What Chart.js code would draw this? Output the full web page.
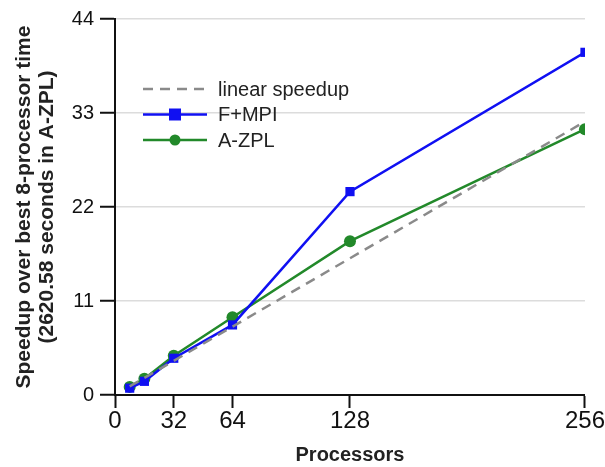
<!DOCTYPE html>
<html>
<head>
<meta charset="utf-8">
<script src="https://cdn.jsdelivr.net/npm/chart.js@4"></script>
<style>
  body { margin: 0; background: #fff; }
  #wrap { width: 605px; height: 467px; }
</style>
</head>
<body>
<div id="wrap"><canvas id="myChart" width="605" height="467"></canvas></div>
<script>
// processors on x, speedup on y
const processors = [8, 16, 32, 64, 128, 256];
const linearSpeedup = [1, 2, 4, 8, 16, 32];
const fMpi = [0.8, 1.6, 4.3, 8.2, 23.8, 40.1];
const aZpl = [0.95, 1.9, 4.6, 9.1, 18.0, 31.1];
const xTicks = [0, 32, 64, 128, 256];
const yTicks = [0, 11, 22, 33, 44];

const FONT = '"Liberation Sans", Arial, sans-serif';

function pts(ys) {
  return processors.map((p, i) => ({ x: p, y: ys[i] }));
}

// legend drawn inside the plot: line sample with marker in the middle
const insideLegend = {
  id: 'insideLegend',
  afterDraw(chart) {
    const ctx = chart.ctx;
    const x0 = 143, x1 = 207, tx = 218;
    let y = 89;
    chart.data.datasets.forEach(ds => {
      ctx.save();
      ctx.strokeStyle = ds.borderColor;
      ctx.lineWidth = ds.borderWidth;
      ctx.setLineDash(ds.borderDash || []);
      ctx.beginPath();
      ctx.moveTo(x0, y);
      ctx.lineTo(x1, y);
      ctx.stroke();
      ctx.setLineDash([]);
      const mx = 175;
      ctx.fillStyle = ds.pointBackgroundColor;
      if (ds.pointRadius > 0) {
        if (ds.pointStyle === 'rect') {
          const s = 12;
          ctx.fillRect(mx - s / 2, y - s / 2, s, s);
        } else {
          ctx.beginPath();
          ctx.arc(mx, y, 5.5, 0, Math.PI * 2);
          ctx.fill();
        }
      }
      ctx.fillStyle = '#222';
      ctx.font = '20px ' + FONT;
      ctx.textBaseline = 'middle';
      ctx.fillText(ds.label, tx, y + 1);
      ctx.restore();
      y += 25.5;
    });
  }
};

const config = {
  type: 'line',
  data: {
    datasets: [
      {
        label: 'linear speedup',
        data: pts(linearSpeedup),
        borderColor: '#8a8a8a',
        borderWidth: 2.5,
        borderDash: [10, 7],
        pointRadius: 0,
        pointBackgroundColor: '#8a8a8a',
        fill: false,
      },
      {
        label: 'F+MPI',
        data: pts(fMpi),
        borderColor: '#1010f2',
        borderWidth: 2.5,
        pointStyle: 'rect',
        pointRadius: 6.5,
        pointBackgroundColor: '#1010f2',
        pointBorderWidth: 0,
        fill: false,
      },
      {
        label: 'A-ZPL',
        data: pts(aZpl),
        borderColor: '#22892a',
        borderWidth: 2.5,
        pointStyle: 'circle',
        pointRadius: 6,
        pointBackgroundColor: '#22892a',
        pointBorderWidth: 0,
        fill: false,
      }
    ]
  },
  options: {
    responsive: false,
    animation: false,
    layout: { padding: { left: 0, right: 18, top: 19, bottom: 0 } },
    plugins: {
      legend: { display: false },
      tooltip: { enabled: false },
    },
    scales: {
      x: {
        type: 'linear',
        min: 0,
        max: 256,
        afterBuildTicks: s => { s.ticks = xTicks.map(v => ({ value: v })); },
        afterFit: s => { s.height = 72; },
        border: { color: '#111', width: 2 },
        grid: {
          drawOnChartArea: false,
          tickColor: '#111',
          tickLength: 13,
          tickWidth: 2,
        },
        ticks: {
          color: '#111',
          font: { family: FONT, size: 24, lineHeight: 1.1 },
          maxRotation: 0,
          padding: 0,
        },
        title: {
          display: true,
          text: 'Processors',
          color: '#222',
          font: { family: FONT, size: 20, weight: 'bold', lineHeight: 1.2 },
          padding: { top: 0, bottom: 0 },
        }
      },
      y: {
        type: 'linear',
        min: 0,
        max: 44,
        afterBuildTicks: s => { s.ticks = yTicks.map(v => ({ value: v })); },
        afterFit: s => { s.width = 115; },
        border: { color: '#111', width: 2 },
        grid: {
          color: '#dcdcdc',
          lineWidth: 1.5,
          tickColor: '#111',
          tickLength: 15,
          tickWidth: 2,
        },
        ticks: {
          color: '#111',
          font: { family: FONT, size: 20 },
          padding: 6,
        },
        title: {
          display: true,
          text: ['Speedup over best 8-processor time', '(2620.58 seconds in A-ZPL)'],
          color: '#222',
          font: { family: FONT, size: 21, weight: 'bold', lineHeight: 1.1 },
          padding: { top: 13, bottom: 0 },
        }
      }
    }
  },
  plugins: [insideLegend]
};

new Chart(document.getElementById('myChart').getContext('2d'), config);
</script>
</body>
</html>
